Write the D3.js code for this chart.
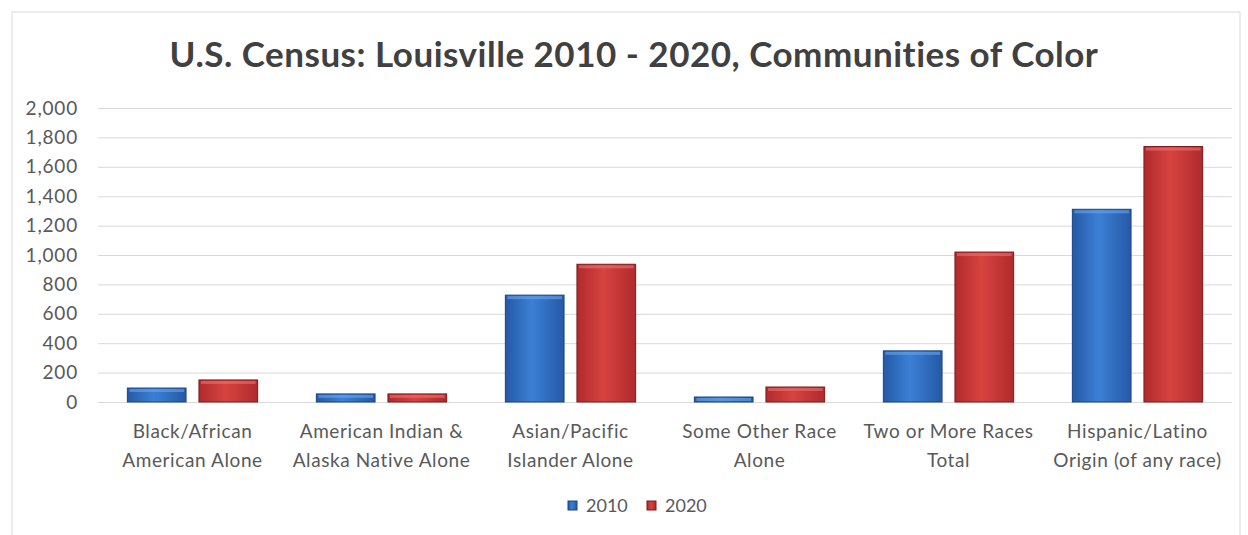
<!DOCTYPE html>
<html>
<head>
<meta charset="utf-8">
<script src="https://cdn.jsdelivr.net/npm/d3@7"></script>
<style>
  body { margin: 0; background: #fff; }
  text { font-family: Lato, "Open Sans", sans-serif; }
</style>
</head>
<body>
<svg id="chart"></svg>
<script>
const categories = [
  ["Black/African", "American Alone"],
  ["American Indian &", "Alaska Native Alone"],
  ["Asian/Pacific", "Islander Alone"],
  ["Some Other Race", "Alone"],
  ["Two or More Races", "Total"],
  ["Hispanic/Latino", "Origin (of any race)"]
];
const series = ["2010", "2020"];
const values2010 = [95, 55, 727, 34, 348, 1311];
const values2020 = [150, 55, 937, 102, 1020, 1738];
const yTicks = [0, 200, 400, 600, 800, 1000, 1200, 1400, 1600, 1800, 2000];

const W = 1248, H = 535;
const plot = {left: 98, right: 1232, top: 108, bottom: 402};

const svg = d3.select("#chart").attr("width", W).attr("height", H);

// chart frame
svg.append("rect")
  .attr("x", 12).attr("y", 12)
  .attr("width", W - 20).attr("height", H - 10)
  .attr("fill", "#fff")
  .attr("stroke", "#d9d9d9");

const defs = svg.append("defs");
const palette = {
  "2010": {edge: "#2559a6", mid: "#3b80d6", stroke: "#1d4680", top: "#6aa6ea"},
  "2020": {edge: "#b02a2d", mid: "#d7433f", stroke: "#7c1a1c", top: "#e87474"}
};
series.forEach(s => {
  const g = defs.append("linearGradient").attr("id", "g" + s)
    .attr("x1", "0").attr("x2", "1").attr("y1", "0").attr("y2", "0");
  g.append("stop").attr("offset", "0%").attr("stop-color", palette[s].edge);
  g.append("stop").attr("offset", "45%").attr("stop-color", palette[s].mid);
  g.append("stop").attr("offset", "100%").attr("stop-color", palette[s].edge);
});

svg.append("text")
  .attr("x", 634).attr("y", 67)
  .attr("text-anchor", "middle")
  .attr("font-size", 35)
  .attr("font-weight", "bold")
  .attr("letter-spacing", 0.5)
  .attr("fill", "#404040")
  .text("U.S. Census: Louisville 2010 - 2020, Communities of Color");

const y = d3.scaleLinear().domain([0, 2000]).range([plot.bottom, plot.top]);
const x0 = d3.scaleBand().domain(d3.range(categories.length))
  .range([plot.left, plot.right]).padding(0);
const x1 = d3.scaleBand().domain(series)
  .range([0, x0.bandwidth()]).paddingInner(0.18).paddingOuter(0.41);

// gridlines + y labels
const yAxis = d3.axisLeft(y).tickValues(yTicks)
  .tickSize(-(plot.right - plot.left))
  .tickPadding(18)
  .tickFormat(d3.format(","));
const ga = svg.append("g").attr("transform", `translate(${plot.left},0)`).call(yAxis);
ga.select(".domain").remove();
ga.selectAll(".tick line").attr("stroke", "#d9d9d9");
ga.selectAll(".tick text").attr("fill", "#595959").attr("font-size", 19)
  .attr("letter-spacing", 0.8)
  .attr("font-family", "Lato, sans-serif").attr("x", -20);

// bars
const rows = categories.map((c, i) => ({i, vals: [values2010[i], values2020[i]]}));
const groups = svg.append("g").selectAll("g").data(rows).join("g")
  .attr("transform", d => `translate(${x0(d.i)},0)`);
groups.selectAll("rect.bar")
  .data(d => series.map((s, k) => ({s, v: d.vals[k]})))
  .join("rect").attr("class", "bar")
  .attr("x", d => x1(d.s))
  .attr("y", d => y(d.v))
  .attr("width", x1.bandwidth())
  .attr("height", d => y(0) - y(d.v))
  .attr("fill", d => `url(#g${d.s})`)
  .attr("stroke", d => palette[d.s].stroke)
  .attr("stroke-width", 1);
groups.selectAll("rect.hl")
  .data(d => series.map((s, k) => ({s, v: d.vals[k]})))
  .join("rect").attr("class", "hl")
  .attr("x", d => x1(d.s) + 2)
  .attr("y", d => y(d.v) + 1)
  .attr("width", x1.bandwidth() - 4)
  .attr("height", d => Math.min(3, Math.max(0, y(0) - y(d.v) - 2)))
  .attr("fill", d => palette[d.s].top)
  .attr("opacity", 0.6);

// category labels
const lab = svg.append("g").selectAll("text").data(categories).join("text")
  .attr("text-anchor", "middle")
  .attr("fill", "#595959")
  .attr("font-size", 19)
  .attr("letter-spacing", 0.6)
  .attr("transform", (d, i) => `translate(${x0(i) + x0.bandwidth() / 2},438)`);
lab.selectAll("tspan").data(d => d).join("tspan")
  .attr("x", 0).attr("dy", (d, k) => k === 0 ? 0 : 29)
  .text(d => d);

// legend
const legendX = [568, 647];
const leg = svg.append("g").selectAll("g").data(series).join("g")
  .attr("transform", (d, k) => `translate(${legendX[k]},501)`);
leg.append("rect").attr("width", 9).attr("height", 9)
  .attr("fill", d => `url(#g${d})`).attr("stroke", d => palette[d].stroke);
leg.append("text").attr("x", 18).attr("y", 11)
  .attr("font-size", 18).attr("fill", "#595959").text(d => d);
</script>
</body>
</html>
